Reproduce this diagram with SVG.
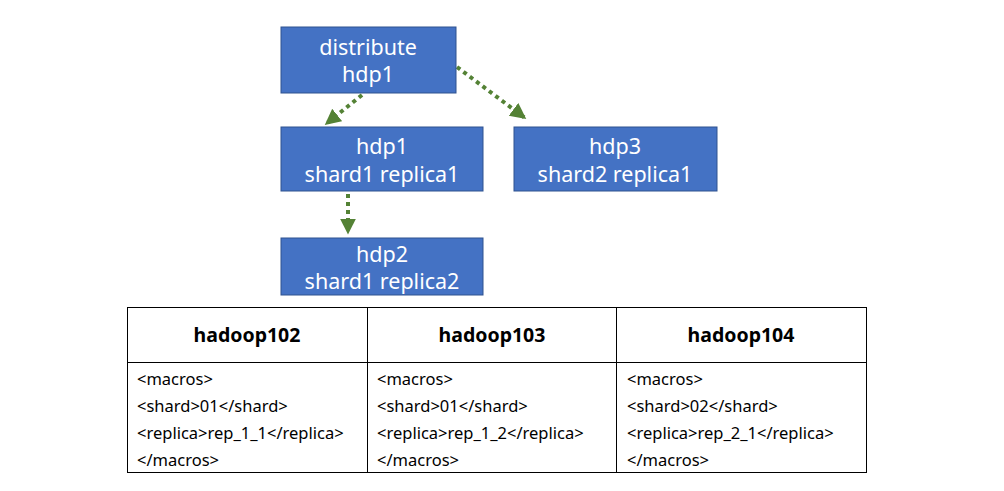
<svg xmlns="http://www.w3.org/2000/svg" width="1004" height="491" viewBox="0 0 1004 491">
<defs>
<style>
.node rect{fill:#4472C4;stroke:#2F528F;stroke-width:1}
.node text{fill:#fff;font-family:"Noto Sans","Liberation Sans",sans-serif;font-size:21.5px;text-anchor:middle}
.conn{stroke:#548235;stroke-width:4;stroke-dasharray:4 4;fill:none}
.tbl{fill:none;stroke:#000;stroke-width:1}
.th{font-family:"Noto Sans","Liberation Sans",sans-serif;font-weight:bold;font-size:19.5px;text-anchor:middle;fill:#000}
.td{font-family:"Noto Sans","Liberation Sans",sans-serif;font-size:16.5px;fill:#000}
</style>
<marker id="ah" viewBox="0 0 10 10" refX="9" refY="5" markerWidth="4" markerHeight="4.5" orient="auto" markerUnits="strokeWidth">
<path d="M0,0 L10,5 L0,10 z" fill="#548235"/>
</marker>
</defs>
<g id="connectors">
<path class="conn" d="M362,95 L326,124" marker-end="url(#ah)"/>
<path class="conn" d="M457,67 L525,118" marker-end="url(#ah)"/>
<path class="conn" d="M348,194 L348,233" marker-end="url(#ah)"/>
</g>
<g id="n-distribute" class="node"><rect x="281" y="27" width="175" height="66"/><text x="368" y="55">distribute</text><text x="368" y="82">hdp1</text></g>
<g id="n-hdp1" class="node"><rect x="281" y="127" width="202" height="64"/><text x="382" y="154">hdp1</text><text x="382" y="182">shard1 replica1</text></g>
<g id="n-hdp3" class="node"><rect x="514" y="127" width="203" height="64"/><text x="615" y="154">hdp3</text><text x="615" y="182">shard2 replica1</text></g>
<g id="n-hdp2" class="node"><rect x="281" y="238" width="202" height="57"/><text x="382" y="262">hdp2</text><text x="382" y="289">shard1 replica2</text></g>
<g id="table">
<rect class="tbl" x="127.5" y="307.5" width="739" height="165"/>
<line class="tbl" x1="127" y1="362.5" x2="866" y2="362.5"/>
<line class="tbl" x1="367.5" y1="307" x2="367.5" y2="473"/>
<line class="tbl" x1="616.5" y1="307" x2="616.5" y2="473"/>
<text class="th" x="247" y="342">hadoop102</text>
<text class="th" x="492" y="342">hadoop103</text>
<text class="th" x="741" y="342">hadoop104</text>
<g class="td">
<text x="137" y="385">&lt;macros&gt;</text>
<text x="137" y="412">&lt;shard&gt;01&lt;/shard&gt;</text>
<text x="137" y="439">&lt;replica&gt;rep_1_1&lt;/replica&gt;</text>
<text x="137" y="466">&lt;/macros&gt;</text>
<text x="377" y="385">&lt;macros&gt;</text>
<text x="377" y="412">&lt;shard&gt;01&lt;/shard&gt;</text>
<text x="377" y="439">&lt;replica&gt;rep_1_2&lt;/replica&gt;</text>
<text x="377" y="466">&lt;/macros&gt;</text>
<text x="627" y="385">&lt;macros&gt;</text>
<text x="627" y="412">&lt;shard&gt;02&lt;/shard&gt;</text>
<text x="627" y="439">&lt;replica&gt;rep_2_1&lt;/replica&gt;</text>
<text x="627" y="466">&lt;/macros&gt;</text>
</g>
</g>
</svg>
